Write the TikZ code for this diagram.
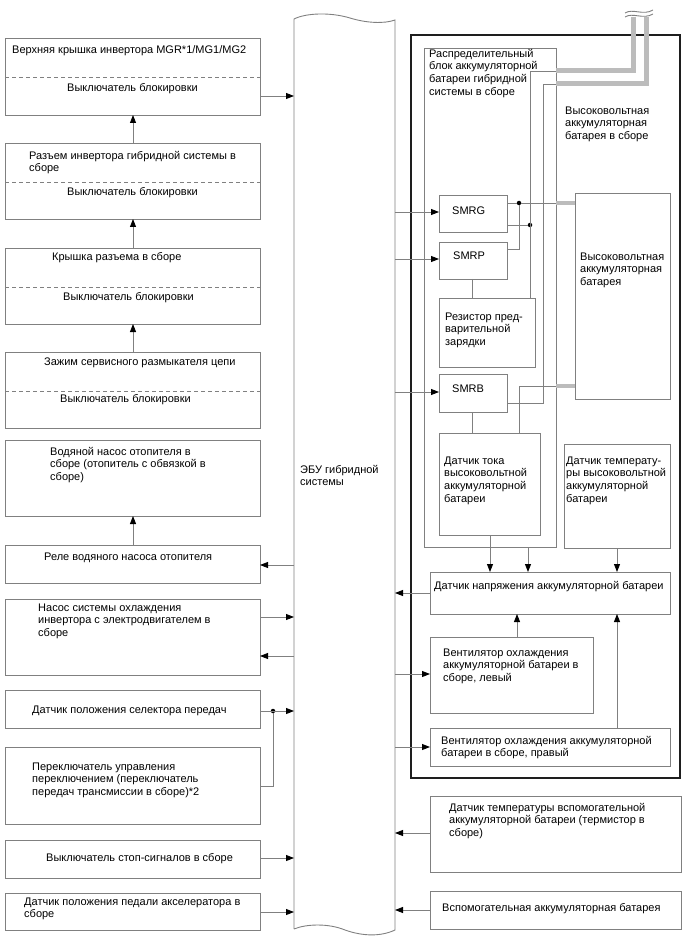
\documentclass[tikz,border=0pt]{standalone}
\usepackage{fontspec}
\setmainfont{Liberation Sans}
\usepackage{tikz}
\usetikzlibrary{arrows.meta, calc}
\definecolor{WireGray}{RGB}{128,128,128}
\definecolor{CableGray}{RGB}{188,188,188}
\definecolor{FrameBlack}{RGB}{30,30,30}

\begin{document}
\begin{tikzpicture}[x=1pt, y=-1pt,
    unitbox/.style={draw=WireGray, line width=0.9pt, anchor=north west, inner sep=0pt, outer sep=0pt},
    frame/.style={draw=FrameBlack, line width=1.8pt, anchor=north west, inner sep=0pt, outer sep=0pt},
    txt/.style={anchor=north west, inner sep=0pt, align=left, yshift=6pt, font=\fontsize{11}{12.8}\selectfont},
    wire/.style={draw=WireGray, line width=0.9pt},
    sig/.style={wire, -{Triangle[length=8pt, width=6pt, color=black]}},
    splitline/.style={draw=WireGray, line width=0.8pt, dash pattern=on 4pt off 3pt},
    cable/.style={draw=CableGray, line width=5pt},
    junc/.style={circle, fill=black, inner sep=0pt, minimum size=4.5pt}]
  \useasboundingbox (0,0) rectangle (688,949);

  % ECU bus
  \coordinate (busLt) at (294,19);
  \coordinate (busLb) at (294,929);
  \coordinate (busRt) at (395,20);
  \coordinate (busRb) at (395,930);
  \draw[wire] (busLb) -- (busLt) .. controls (306,13) and (330,12) .. (350,18)
    .. controls (366,23) and (384,24) .. (busRt) -- (busRb)
    .. controls (380,937) and (362,936) .. (345,930)
    .. controls (328,923) and (306,924) .. (busLb);
  \node[txt] (ecu) at (300,470) {\strut ЭБУ гибридной\\системы};

  % left column
  \node[unitbox, minimum width=255pt, minimum height=77pt] (cover) at (5,38) {};
  \node[unitbox, minimum width=255pt, minimum height=76pt] (invconn) at (5,143) {};
  \node[unitbox, minimum width=255pt, minimum height=76pt] (conncover) at (5,248) {};
  \node[unitbox, minimum width=255pt, minimum height=76pt] (svcplug) at (5,352) {};
  \node[unitbox, minimum width=255pt, minimum height=76pt] (heatpump) at (5,440) {};
  \node[unitbox, minimum width=255pt, minimum height=38pt] (pumprelay) at (5,545) {};
  \node[unitbox, minimum width=255pt, minimum height=76pt] (invpump) at (5,599) {};
  \node[unitbox, minimum width=255pt, minimum height=38pt] (selector) at (5,690) {};
  \node[unitbox, minimum width=255pt, minimum height=77pt] (shiftsw) at (5,747) {};
  \node[unitbox, minimum width=255pt, minimum height=38pt] (stopsw) at (5,840) {};
  \node[unitbox, minimum width=255pt, minimum height=37pt] (accel) at (5,893) {};

  \draw[splitline] (cover.west |- 0,77) -- (cover.east |- 0,77);
  \draw[splitline] (invconn.west |- 0,182) -- (invconn.east |- 0,182);
  \draw[splitline] (conncover.west |- 0,287) -- (conncover.east |- 0,287);
  \draw[splitline] (svcplug.west |- 0,391) -- (svcplug.east |- 0,391);

  \node[txt] (coverT) at (12,50) {\strut Верхняя крышка инвертора MGR*1/MG1/MG2};
  \node[txt] (coverS) at (67,88) {\strut Выключатель блокировки};
  \node[txt] (invconnT) at (29,156) {\strut Разъем инвертора гибридной системы в\\сборе};
  \node[txt] (invconnS) at (67,192) {\strut Выключатель блокировки};
  \node[txt] (conncoverT) at (52,257) {\strut Крышка разъема в сборе};
  \node[txt] (conncoverS) at (63,297) {\strut Выключатель блокировки};
  \node[txt] (svcplugT) at (44,362) {\strut Зажим сервисного размыкателя цепи};
  \node[txt] (svcplugS) at (60,399) {\strut Выключатель блокировки};
  \node[txt] (heatpumpT) at (50,452) {\strut Водяной насос отопителя в\\сборе (отопитель с обвязкой в\\сборе)};
  \node[txt] (pumprelayT) at (44,557) {\strut Реле водяного насоса отопителя};
  \node[txt] (invpumpT) at (38,608) {\strut Насос системы охлаждения\\инвертора с электродвигателем в\\сборе};
  \node[txt] (selectorT) at (32,710) {\strut Датчик положения селектора передач};
  \node[txt] (shiftswT) at (32,767) {\strut Переключатель управления\\переключением (переключатель\\передач трансмиссии в сборе)*2};
  \node[txt] (stopswT) at (46,858) {\strut Выключатель стоп-сигналов в сборе};
  \node[txt] (accelT) at (24,902) {\strut Датчик положения педали акселератора в\\сборе};

  \draw[sig] (cover.east |- 0,96) -- (busLt |- 0,96);
  \draw[sig] (invconn.north -| 133,0) -- (cover.south -| 133,0);
  \draw[sig] (conncover.north -| 133,0) -- (invconn.south -| 133,0);
  \draw[sig] (svcplug.north -| 133,0) -- (conncover.south -| 133,0);
  \draw[sig] (pumprelay.north -| 133,0) -- (heatpump.south -| 133,0);
  \draw[sig] (busLt |- 0,565) -- (pumprelay.east |- 0,565);
  \draw[sig] (invpump.east |- 0,617) -- (busLt |- 0,617);
  \draw[sig] (busLt |- 0,656) -- (invpump.east |- 0,656);
  \node[junc] (js) at (273,711) {};
  \draw[sig] (selector.east |- js) -- (busLt |- js);
  \draw[wire] (shiftsw.east |- 0,786) -- (js |- 0,786) -- (js);
  \draw[sig] (stopsw.east |- 0,858) -- (busLt |- 0,858);
  \draw[sig] (accel.east |- 0,912) -- (busLt |- 0,912);

  % high voltage battery assembly
  \node[frame, minimum width=269pt, minimum height=743pt] (hvassy) at (411,35) {};
  \node[unitbox, minimum width=132pt, minimum height=499pt] (junction) at (424,48) {};
  \node[unitbox, minimum width=68pt, minimum height=37pt] (smrg) at (439,195) {};
  \node[unitbox, minimum width=68pt, minimum height=37pt] (smrp) at (439,242) {};
  \node[unitbox, minimum width=96pt, minimum height=69pt] (prechg) at (439,298) {};
  \node[unitbox, minimum width=68pt, minimum height=38pt] (smrb) at (439,374) {};
  \node[unitbox, minimum width=101pt, minimum height=102pt] (cursens) at (439,433) {};
  \node[unitbox, minimum width=95pt, minimum height=206pt] (hvbatt) at (575,193) {};
  \node[unitbox, minimum width=106pt, minimum height=104pt] (tempsens) at (564,444) {};
  \node[unitbox, minimum width=240pt, minimum height=42pt] (voltsens) at (430,572) {};
  \node[unitbox, minimum width=163pt, minimum height=76pt] (fanleft) at (430,637) {};
  \node[unitbox, minimum width=240pt, minimum height=38pt] (fanright) at (430,728) {};
  \node[unitbox, minimum width=251pt, minimum height=76pt] (auxtemp) at (430,796) {};
  \node[unitbox, minimum width=251pt, minimum height=38pt] (auxbatt) at (430,891) {};

  \node[txt] (junctionT) at (429,54) {\strut Распределительный\\блок аккумуляторной\\батареи гибридной\\системы в сборе};
  \node[txt] (hvassyT) at (565,111) {\strut Высоковольтная\\аккумуляторная\\батарея в сборе};
  \node[txt] (smrgT) at (452,211) {\strut SMRG};
  \node[txt] (smrpT) at (453,256) {\strut SMRP};
  \node[txt] (prechgT) at (445,317) {\strut Резистор пред-\\варительной\\зарядки};
  \node[txt] (smrbT) at (452,389) {\strut SMRB};
  \node[txt] (cursensT) at (444,461) {\strut Датчик тока\\высоковольтной\\аккумуляторной\\батареи};
  \node[txt] (hvbattT) at (580,257) {\strut Высоковольтная\\аккумуляторная\\батарея};
  \node[txt] (tempsensT) at (566,461) {\strut Датчик температу-\\ры высоковольтной\\аккумуляторной\\батареи};
  \node[txt] (voltsensT) at (434,586) {\strut Датчик напряжения аккумуляторной батареи};
  \node[txt] (fanleftT) at (443,653) {\strut Вентилятор охлаждения\\аккумуляторной батареи в\\сборе, левый};
  \node[txt] (fanrightT) at (441,741) {\strut Вентилятор охлаждения аккумуляторной\\батареи в сборе, правый};
  \node[txt] (auxtempT) at (449,808) {\strut Датчик температуры вспомогательной\\аккумуляторной батареи (термистор в\\сборе)};
  \node[txt] (auxbattT) at (442,908) {\strut Вспомогательная аккумуляторная батарея};

  % power cables
  \draw[cable] (633,17) -- (633,71) -- (junction.east |- 0,71);
  \draw[cable] (646,17) -- (646,84) -- (junction.east |- 0,84);
  \draw[wire] (625,13) .. controls (633,8) and (643,16) .. (653,10);
  \draw[wire] (625,17) .. controls (633,12) and (643,20) .. (653,14);

  % relay wiring
  \coordinate (c1) at (530,71);
  \coordinate (c2) at (543,84);
  \coordinate (jb) at (519,386);
  \node[junc] (jg) at (519,203) {};
  \node[junc] (jp) at (530,225) {};
  \draw[wire] (junction.east |- c1) -- (c1) -- (c1 |- prechg.north);
  \draw[wire] (junction.east |- c2) -- (c2) -- (c2 |- 0,403) -- (smrb.east |- 0,403);
  \draw[wire] (smrg.east |- jg) -- (jg) -- (junction.east |- jg);
  \draw[cable, line width=4.5pt] (junction.east |- jg) -- (hvbatt.west |- jg);
  \draw[wire] (jg) -- (jg |- 0,249) -- (smrp.east |- 0,249);
  \draw[wire] (smrg.east |- jp) -- (jp);
  \draw[wire] (cursens.north -| jb) -- (jb) -- (junction.east |- jb);
  \draw[cable, line width=4.5pt] (junction.east |- jb) -- (hvbatt.west |- jb);
  \draw[wire] (smrp.south -| 472,0) -- (prechg.north -| 472,0);
  \draw[wire] (smrb.south -| 472,0) -- (cursens.north -| 472,0);

  % signals on the right
  \draw[sig] (busRt |- 0,212) -- (smrg.west |- 0,212);
  \draw[sig] (busRt |- 0,259) -- (smrp.west |- 0,259);
  \draw[sig] (busRt |- 0,392) -- (smrb.west |- 0,392);
  \draw[sig] (cursens.south -| 490,0) -- (voltsens.north -| 490,0);
  \draw[sig] (junction.south -| 528,0) -- (voltsens.north -| 528,0);
  \draw[sig] (tempsens.south -| 617,0) -- (voltsens.north -| 617,0);
  \draw[sig] (fanleft.north -| 517,0) -- (voltsens.south -| 517,0);
  \draw[sig] (fanright.north -| 617,0) -- (voltsens.south -| 617,0);
  \draw[sig] (voltsens.west |- 0,593) -- (busRt |- 0,593);
  \draw[sig] (busRt |- 0,674) -- (fanleft.west |- 0,674);
  \draw[sig] (busRt |- 0,747) -- (fanright.west |- 0,747);
  \draw[sig] (auxtemp.west |- 0,833) -- (busRt |- 0,833);
  \draw[sig] (auxbatt.west |- 0,910) -- (busRt |- 0,910);
\end{tikzpicture}
\end{document}
